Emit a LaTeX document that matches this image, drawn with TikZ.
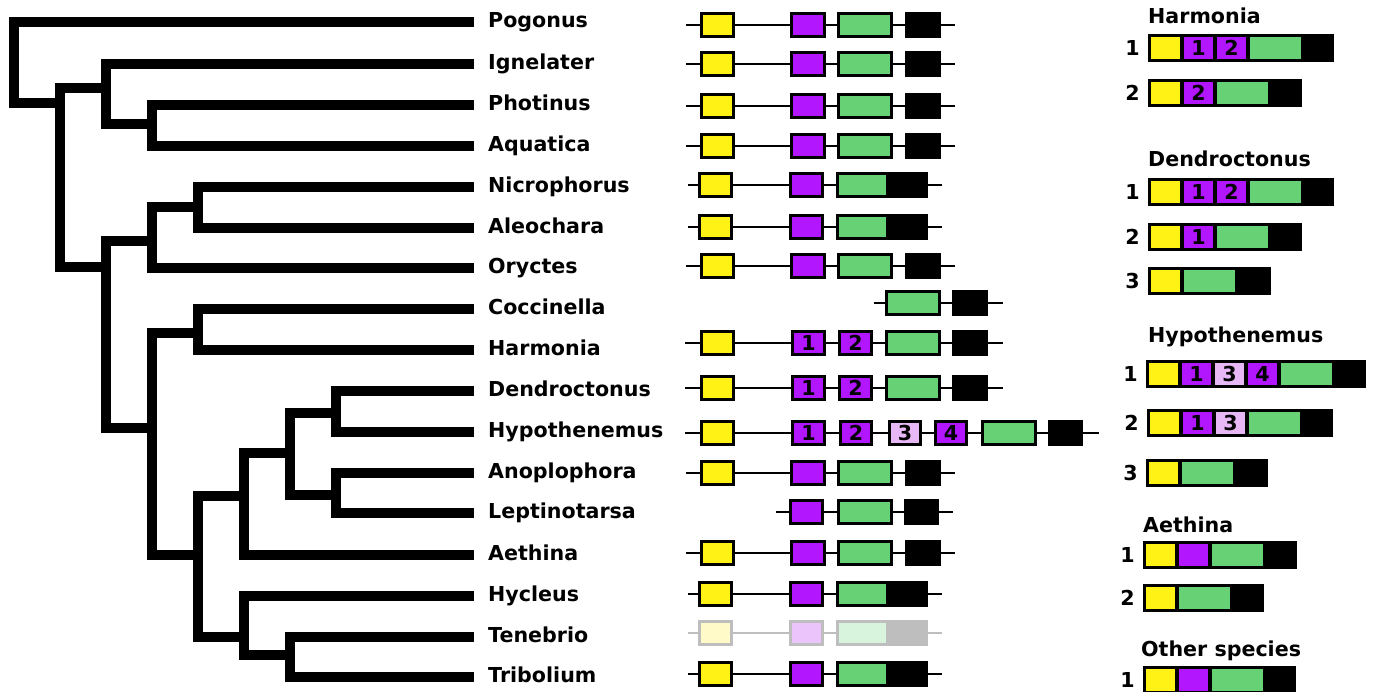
\documentclass[tikz,border=0pt]{standalone}
\usepackage{fontspec}
\setmainfont{DejaVu Sans}

\definecolor{ylw}{RGB}{255,242,20}
\definecolor{pur}{RGB}{178,22,255}
\definecolor{lpur}{RGB}{232,184,246}
\definecolor{grn}{RGB}{102,210,117}
% faded Tenebrio
\definecolor{fylw}{RGB}{255,250,200}
\definecolor{fpur}{RGB}{234,196,250}
\definecolor{fgrn}{RGB}{216,244,220}
\definecolor{fgry}{RGB}{190,190,190}

\newcommand{\bigbf}{\bfseries\fontsize{20.6}{24}\selectfont}

\tikzset{
  branch/.style={line width=10pt},
  taxon/.style={anchor=base west, inner sep=0pt, font=\bigbf},
  exon/.style={draw=black, line width=3pt, minimum height=23pt, inner sep=0pt, font=\bigbf},
  faded/.style={exon, draw=fgry},
  intron/.style={line width=2pt},
  isotitle/.style={anchor=base west, inner sep=0pt, font=\bigbf},
  isonum/.style={anchor=base east, inner sep=0pt, font=\bigbf},
  seg/.style={inner sep=0pt, minimum height=22pt, font=\bigbf}
}

% one isoform bar: id, number, left x, y, segments, right x
\newcommand{\isoform}[6]{%
  \node[isonum] (#1n) at (#3-8,#4+7.5) {#2};
  \fill (#3,#4-14) rectangle (#6,#4+14);
  \foreach \c/\t/\w [count=\k, remember=\nx as \px (initially #3+3)] in {#5}
  {
    \node[seg, fill=\c, minimum width=\w pt] (#1s\k) at (\px+\w/2,#4) {\t};
    \pgfmathsetmacro\nx{\px+\w+4}
  }
}

\begin{document}
\begin{tikzpicture}[x=1pt,y=-1pt]
\useasboundingbox (0,0) rectangle (1373,691);

% leaves
\foreach \nm/\ly/\txt in {pog/22/Pogonus, ign/64/Ignelater, pho/105/Photinus,
    aqu/146/Aquatica, nic/187/Nicrophorus, ale/228/Aleochara, ory/268/Oryctes,
    coc/309/Coccinella, har/350/Harmonia, den/391/Dendroctonus,
    hyp/432/Hypothenemus, ano/473/Anoplophora, lep/513/Leptinotarsa,
    aet/555/Aethina, hyc/596/Hycleus, ten/637/Tenebrio, tri/677/Tribolium}
{
  \coordinate (t\nm) at (474,\ly);
  \node[taxon] (l\nm) at (488,\ly+5.5) {\txt};
}

% inner nodes
\coordinate (root) at (14,60);
\coordinate (nA) at (60,103);
\coordinate (nB) at (106,88);
\coordinate (nC) at (152,124);
\coordinate (nD) at (106,267);
\coordinate (nE) at (152,241);
\coordinate (nF) at (198,207);
\coordinate (nG) at (152,428);
\coordinate (nH) at (198,333);
\coordinate (nI) at (198,555);
\coordinate (nJ) at (244,496);
\coordinate (nK) at (290,453);
\coordinate (nL) at (336,413);
\coordinate (nM) at (336,495);
\coordinate (nN) at (244,637);
\coordinate (nO) at (290,655);

\draw[branch] (tpog) -| (root) |- (nA);
\draw[branch] (nB) -| (nA) |- (nD);
\draw[branch] (tign) -| (nB) |- (nC);
\draw[branch] (tpho) -| (nC) |- (taqu);
\draw[branch] (nE) -| (nD) |- (nG);
\draw[branch] (nF) -| (nE) |- (tory);
\draw[branch] (tnic) -| (nF) |- (tale);
\draw[branch] (nH) -| (nG) |- (nI);
\draw[branch] (tcoc) -| (nH) |- (thar);
\draw[branch] (nJ) -| (nI) |- (nN);
\draw[branch] (nK) -| (nJ) |- (taet);
\draw[branch] (nL) -| (nK) |- (nM);
\draw[branch] (tden) -| (nL) |- (thyp);
\draw[branch] (tano) -| (nM) |- (tlep);
\draw[branch] (thyc) -| (nN) |- (nO);
\draw[branch] (tten) -| (nO) |- (ttri);

% gene structures, four separate exons
\foreach \nm/\yy in {pog/25, ign/64, pho/106, aqu/146, ory/266, ano/473, aet/553}
{
  \node[exon, fill=ylw, minimum width=32pt] (y\nm) at (717.5,\yy) {};
  \node[exon, fill=pur, minimum width=33pt] (p\nm) at (808,\yy) {};
  \node[exon, fill=grn, minimum width=53pt] (g\nm) at (865,\yy) {};
  \node[exon, fill=black, minimum width=33pt] (k\nm) at (923,\yy) {};
  \coordinate (s\nm) at (686,\yy);
  \coordinate (e\nm) at (955,\yy);
  \draw[intron] (s\nm) -- (y\nm) -- (p\nm) -- (g\nm) -- (k\nm) -- (e\nm);
}

% gene structures, last two exons fused
\foreach \nm/\yy in {nic/185, ale/227, hyc/594, tri/674}
{
  \node[exon, fill=ylw, minimum width=32pt] (y\nm) at (715.5,\yy) {};
  \node[exon, fill=pur, minimum width=32pt] (p\nm) at (806.5,\yy) {};
  \node[exon, fill=grn, minimum width=50pt] (g\nm) at (862.5,\yy) {};
  \node[exon, fill=black, minimum width=36pt] (k\nm) at (908.5,\yy) {};
  \coordinate (s\nm) at (688,\yy);
  \coordinate (e\nm) at (942,\yy);
  \draw[intron] (s\nm) -- (y\nm) -- (p\nm) -- (g\nm);
  \draw[intron] (k\nm) -- (e\nm);
}

% Tenebrio
\node[faded, fill=fylw, minimum width=32pt] (yten) at (715.5,633) {};
\node[faded, fill=fpur, minimum width=32pt] (pten) at (806.5,633) {};
\node[faded, fill=fgrn, minimum width=50pt] (gten) at (862.5,633) {};
\node[faded, fill=fgry, minimum width=36pt] (kten) at (908.5,633) {};
\coordinate (sten) at (688,633);
\coordinate (eten) at (942,633);
\draw[intron, fgry] (sten) -- (yten) -- (pten) -- (gten);
\draw[intron, fgry] (kten) -- (eten);

% Coccinella
\node[exon, fill=grn, minimum width=53pt] (gcoc) at (913,303) {};
\node[exon, fill=black, minimum width=33pt] (kcoc) at (970,303) {};
\coordinate (scoc) at (874,303);
\coordinate (ecoc) at (1003,303);
\draw[intron] (scoc) -- (gcoc) -- (kcoc) -- (ecoc);

% Harmonia and Dendroctonus
\foreach \nm/\yy in {har/343, den/388}
{
  \node[exon, fill=ylw, minimum width=32pt] (y\nm) at (717.5,\yy) {};
  \node[exon, fill=pur, minimum width=32pt] (p\nm) at (808.5,\yy) {1};
  \node[exon, fill=pur, minimum width=32pt] (q\nm) at (855.5,\yy) {2};
  \node[exon, fill=grn, minimum width=53pt] (g\nm) at (913,\yy) {};
  \node[exon, fill=black, minimum width=33pt] (k\nm) at (970,\yy) {};
  \coordinate (s\nm) at (685,\yy);
  \coordinate (e\nm) at (1003,\yy);
  \draw[intron] (s\nm) -- (y\nm) -- (p\nm) -- (q\nm) -- (g\nm) -- (k\nm) -- (e\nm);
}

% Hypothenemus
\node[exon, fill=ylw, minimum width=32pt] (yhyp) at (717.5,433) {};
\node[exon, fill=pur, minimum width=32pt] (p1hyp) at (808.5,433) {1};
\node[exon, fill=pur, minimum width=31pt] (p2hyp) at (856,433) {2};
\node[exon, fill=lpur, minimum width=31pt] (p3hyp) at (905,433) {3};
\node[exon, fill=pur, minimum width=31pt] (p4hyp) at (951,433) {4};
\node[exon, fill=grn, minimum width=53pt] (ghyp) at (1009,433) {};
\node[exon, fill=black, minimum width=32pt] (khyp) at (1065.5,433) {};
\coordinate (shyp) at (685,433);
\coordinate (ehyp) at (1099,433);
\draw[intron] (shyp) -- (yhyp) -- (p1hyp) -- (p2hyp) -- (p3hyp) -- (p4hyp) -- (ghyp) -- (khyp) -- (ehyp);

% Leptinotarsa
\node[exon, fill=pur, minimum width=32pt] (plep) at (806.5,512) {};
\node[exon, fill=grn, minimum width=53pt] (glep) at (865,512) {};
\node[exon, fill=black, minimum width=32pt] (klep) at (921.5,512) {};
\coordinate (slep) at (776,512);
\coordinate (elep) at (953,512);
\draw[intron] (slep) -- (plep) -- (glep) -- (klep) -- (elep);

% isoforms
\node[isotitle] (tharm) at (1148,23) {Harmonia};
\isoform{harA}{1}{1148}{48}{ylw//29, pur/1/29, pur/2/29, grn//51}{1334}
\isoform{harB}{2}{1148}{93}{ylw//29, pur/2/29, grn//51}{1302}

\node[isotitle] (tdend) at (1148,166) {Dendroctonus};
\isoform{denA}{1}{1148}{192}{ylw//29, pur/1/29, pur/2/29, grn//51}{1334}
\isoform{denB}{2}{1148}{237}{ylw//29, pur/1/29, grn//51}{1302}
\isoform{denC}{3}{1148}{281}{ylw//29, grn//51}{1271}

\node[isotitle] (thypo) at (1148,342) {Hypothenemus};
\isoform{hypA}{1}{1146}{374}{ylw//29, pur/1/29, lpur/3/29, pur/4/29, grn//51}{1366}
\isoform{hypB}{2}{1147}{423}{ylw//29, pur/1/29, lpur/3/29, grn//51}{1333}
\isoform{hypC}{3}{1146}{473}{ylw//29, grn//51}{1268}

\node[isotitle] (taeth) at (1143,532) {Aethina};
\isoform{aetA}{1}{1143}{555}{ylw//29, pur//29, grn//51}{1297}
\isoform{aetB}{2}{1143}{598}{ylw//29, grn//51}{1264}

\node[isotitle] (tothr) at (1141,656) {Other species};
\isoform{othA}{1}{1143}{680}{ylw//29, pur//29, grn//51}{1296}

\end{tikzpicture}
\end{document}
